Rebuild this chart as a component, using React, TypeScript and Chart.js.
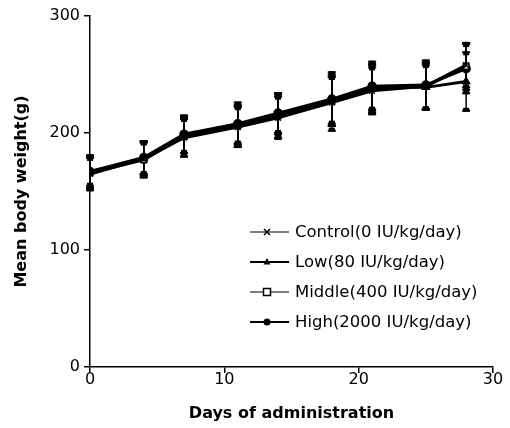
import React, { useEffect, useRef } from 'react';
import { Chart, registerables } from 'chart.js';

Chart.register(...registerables);

const days = [0, 4, 7, 11, 14, 18, 21, 25, 28];
const seriesNames = [
  'Control(0 IU/kg/day)',
  'Low(80 IU/kg/day)',
  'Middle(400 IU/kg/day)',
  'High(2000 IU/kg/day)',
];
const controlMean = [165, 178, 196, 205, 213, 226, 236, 240, 258];
const lowMean = [167, 178, 198, 207, 216, 228, 239, 239, 244];
const middleMean = [166, 177, 197, 206, 215, 227, 238, 240, 257];
const highMean = [167, 179, 199, 208, 217, 229, 240, 241, 255];
const controlSD = [14, 15, 16, 17, 18, 24, 20, 20, 19];
const lowSD = [12, 14, 15, 16, 17, 20, 19, 19, 25];
const middleSD = [13, 15, 17, 18, 19, 21, 21, 20, 20];
const highSD = [14, 14, 16, 18, 17, 23, 21, 21, 21];
const xTicks = [0, 10, 20, 30];
const yTicks = [0, 100, 200, 300];

const FONT = 'DejaVu Sans';

const toPoints = (vals: number[]) => vals.map((v, i) => ({ x: days[i], y: v }));

const errorBarPlugin = {
  id: 'errorBars',
  beforeDatasetsDraw(chart: any) {
    const ctx = chart.ctx;
    const ys = chart.scales.y;
    chart.data.datasets.forEach((ds: any, i: number) => {
      const meta = chart.getDatasetMeta(i);
      meta.data.forEach((pt: any, j: number) => {
        const v = ds.data[j].y;
        const sd = ds.sd[j];
        const top = ys.getPixelForValue(v + sd);
        const bot = ys.getPixelForValue(v - sd);
        ctx.save();
        ctx.strokeStyle = '#000';
        ctx.lineWidth = 1.5;
        ctx.beginPath();
        ctx.moveTo(pt.x, top);
        ctx.lineTo(pt.x, bot);
        ctx.stroke();
        ctx.lineWidth = 2;
        ctx.beginPath();
        ctx.moveTo(pt.x - 4, top);
        ctx.lineTo(pt.x + 4, top);
        ctx.moveTo(pt.x - 4, bot);
        ctx.lineTo(pt.x + 4, bot);
        ctx.stroke();
        ctx.fillStyle = '#000';
        ctx.fillRect(pt.x - 3, top - 1, 6, 4);
        ctx.fillRect(pt.x - 3, bot - 3, 6, 4);
        ctx.restore();
      });
    });
  },
};

const drawMarker = (ctx: CanvasRenderingContext2D, style: string, x: number, y: number, fill: string) => {
  ctx.save();
  ctx.strokeStyle = '#000';
  ctx.fillStyle = fill;
  ctx.lineWidth = 1.5;
  if (style === 'crossRot') {
    ctx.beginPath();
    ctx.moveTo(x - 3, y - 3);
    ctx.lineTo(x + 3, y + 3);
    ctx.moveTo(x + 3, y - 3);
    ctx.lineTo(x - 3, y + 3);
    ctx.stroke();
  } else if (style === 'triangle') {
    ctx.beginPath();
    ctx.moveTo(x, y - 4);
    ctx.lineTo(x + 3.5, y + 2.5);
    ctx.lineTo(x - 3.5, y + 2.5);
    ctx.closePath();
    ctx.fill();
  } else if (style === 'rect') {
    ctx.fillRect(x - 3.5, y - 3.5, 7, 7);
    ctx.strokeRect(x - 3.5, y - 3.5, 7, 7);
  } else {
    ctx.beginPath();
    ctx.arc(x, y, 3.5, 0, Math.PI * 2);
    ctx.fill();
  }
  ctx.restore();
};

const legendPlugin = {
  id: 'insideLegend',
  afterDraw(chart: any) {
    const ctx = chart.ctx;
    chart.data.datasets.forEach((ds: any, i: number) => {
      const y = 232 + i * 30;
      ctx.save();
      ctx.strokeStyle = '#000';
      ctx.lineWidth = i === 0 || i === 2 ? 1.2 : 2;
      ctx.beginPath();
      ctx.moveTo(250, y);
      ctx.lineTo(289, y);
      ctx.stroke();
      drawMarker(ctx, ds.pointStyle, 267, y, ds.pointBackgroundColor);
      ctx.fillStyle = '#000';
      ctx.font = `16.5px "${FONT}"`;
      ctx.textBaseline = 'middle';
      ctx.textAlign = 'left';
      ctx.fillText(ds.label, 295, y + 1);
      ctx.restore();
    });
  },
};

export default function App() {
  const canvasRef = useRef<HTMLCanvasElement | null>(null);

  useEffect(() => {
    if (!canvasRef.current) return;
    const mk = (label: string, vals: number[], sd: number[], pointStyle: string, bg: string, bw: number) => ({
      label,
      data: toPoints(vals),
      sd,
      borderColor: '#000',
      backgroundColor: bg,
      pointStyle,
      pointRadius: 4,
      pointBorderColor: '#000',
      pointBackgroundColor: bg,
      pointBorderWidth: 1.5,
      borderWidth: bw,
      tension: 0,
      fill: false,
    });
    const chart = new Chart(canvasRef.current, {
      type: 'line',
      data: {
        datasets: [
          mk(seriesNames[0], controlMean, controlSD, 'crossRot', '#000', 3),
          mk(seriesNames[1], lowMean, lowSD, 'triangle', '#000', 3),
          mk(seriesNames[2], middleMean, middleSD, 'rect', '#fff', 3),
          mk(seriesNames[3], highMean, highSD, 'circle', '#000', 3),
        ] as any,
      },
      options: {
        animation: false,
        responsive: true,
        maintainAspectRatio: false,
        layout: { padding: { top: 16, right: 17, left: 0, bottom: 0 } },
        plugins: { legend: { display: false }, tooltip: { enabled: false } },
        scales: {
          x: {
            type: 'linear',
            min: 0,
            max: 30,
            afterBuildTicks: (s: any) => {
              s.ticks = xTicks.map((v) => ({ value: v }));
            },
            afterFit: (s: any) => {
              s.height = 61;
            },
            border: { display: true, color: '#000', width: 1.5 },
            grid: { display: true, drawOnChartArea: false, drawTicks: true, tickLength: 6, color: '#000', lineWidth: 1.5 },
            ticks: { color: '#000', font: { family: FONT, size: 16 }, padding: -3, maxRotation: 0 },
            title: {
              display: true,
              text: 'Days of administration',
              color: '#000',
              font: { family: FONT, size: 16, weight: 'bold' },
              padding: { top: 0, bottom: 5 },
            },
          },
          y: {
            type: 'linear',
            min: 0,
            max: 300,
            afterBuildTicks: (s: any) => {
              s.ticks = yTicks.map((v) => ({ value: v }));
            },
            afterFit: (s: any) => {
              s.width = 90;
            },
            border: { display: true, color: '#000', width: 1.5 },
            grid: { display: true, drawOnChartArea: false, drawTicks: true, tickLength: 6, color: '#000', lineWidth: 1.5 },
            ticks: { color: '#000', font: { family: FONT, size: 16 }, padding: 4 },
            title: {
              display: true,
              text: 'Mean body weight(g)',
              color: '#000',
              font: { family: FONT, size: 16, weight: 'bold' },
              padding: { top: 12, bottom: 0 },
            },
          },
        },
      } as any,
      plugins: [errorBarPlugin, legendPlugin],
    });
    return () => chart.destroy();
  }, []);

  return (
    <div style={{ position: 'fixed', left: 0, top: 0, width: 510, height: 428, background: '#fff' }}>
      <canvas ref={canvasRef} />
    </div>
  );
}
